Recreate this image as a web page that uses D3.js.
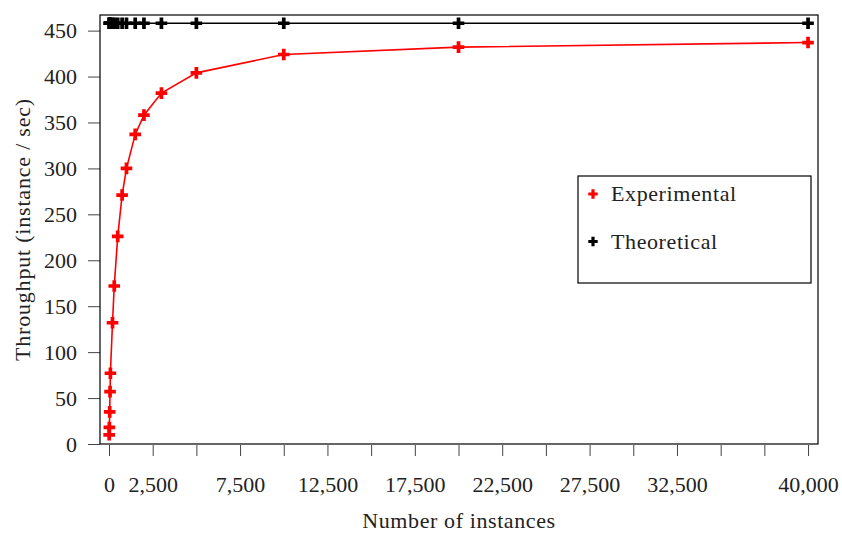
<!DOCTYPE html>
<html>
<head>
<meta charset="utf-8">
<script src="https://cdn.jsdelivr.net/npm/d3@7"></script>
<style>
  body { margin: 0; background: #fff; }
  svg text { font-family: "Liberation Serif", "Times New Roman", "DejaVu Serif", serif; fill: #222; }
</style>
</head>
<body>
<svg id="chart" width="842" height="533"></svg>
<script>
// data
var instances = [10, 20, 40, 60, 80, 200, 300, 500, 750, 1000, 1500, 2000, 3000, 5000, 10000, 20000, 40000];
var experimental = [10, 18, 35, 57, 77, 132, 172, 226, 271, 300, 337, 358, 382, 404, 424, 432, 437];
var theoretical = [458, 458, 458, 458, 458, 458, 458, 458, 458, 458, 458, 458, 458, 458, 458, 458, 458];

var xTicks = d3.range(0, 40001, 2500);
var xTickLabels = [0, 2500, 7500, 12500, 17500, 22500, 27500, 32500, 40000];
var yTicks = [0, 50, 100, 150, 200, 250, 300, 350, 400, 450];

var seriesNames = ["Experimental", "Theoretical"];
var seriesColors = ["#ff0000", "#000000"];

var svg = d3.select("#chart");

// plot frame
const plotLeft = 100, plotRight = 818, plotTop = 15, plotBottom = 444;

var x = d3.scaleLinear().domain([-515, 40570]).range([plotLeft, plotRight]);
var y = d3.scaleLinear().domain([0, 467]).range([plotBottom, plotTop]);

var fmt = d3.format(",");

// axes
var bottomAxis = d3.axisBottom(x)
  .tickValues(xTicks)
  .tickSize(12)
  .tickFormat(d => xTickLabels.indexOf(d) >= 0 ? fmt(d) : "");
var gx = svg.append("g")
  .attr("transform", "translate(0," + plotBottom + ")")
  .call(bottomAxis);
gx.select(".domain").remove();
gx.selectAll("line").attr("stroke", "#444").attr("y1", 1);
gx.selectAll("text")
  .attr("y", 48).attr("dy", 0)
  .style("font-size", "22px");

var leftAxis = d3.axisLeft(y)
  .tickValues(yTicks)
  .tickSize(12)
  .tickFormat(d3.format("d"));
var gy = svg.append("g")
  .attr("transform", "translate(" + plotLeft + ",0)")
  .call(leftAxis);
gy.select(".domain").remove();
gy.selectAll("line").attr("stroke", "#444");
gy.selectAll("text")
  .attr("x", -23)
  .style("font-size", "22px");

// d3 axes set font-family="sans-serif" on the group; drop it so the css applies
gx.attr("font-family", null);
gy.attr("font-family", null);

svg.append("rect")
  .attr("x", plotLeft).attr("y", plotTop)
  .attr("width", plotRight - plotLeft).attr("height", plotBottom - plotTop)
  .attr("fill", "none").attr("stroke", "#000").attr("stroke-width", 1.2);

// axis labels
svg.append("text")
  .attr("x", (plotLeft + plotRight) / 2).attr("y", 528)
  .attr("text-anchor", "middle")
  .style("font-size", "22px").style("letter-spacing", "0.6px")
  .text("Number of instances");

svg.append("text")
  .attr("transform", "translate(30," + ((plotTop + plotBottom) / 2) + ")rotate(-90)")
  .attr("text-anchor", "middle")
  .style("font-size", "22px").style("letter-spacing", "0.8px")
  .text("Throughput (instance / sec)");

// series
var plus = (s) => "M" + (-s) + ",0H" + s + "M0," + (-s) + "V" + s;

var drawSeries = (values, color) => {
  var pts = instances.map((d, i) => [d, values[i]]);
  svg.append("path")
    .datum(pts)
    .attr("fill", "none")
    .attr("stroke", color)
    .attr("stroke-width", 1.6)
    .attr("d", d3.line().x(d => x(d[0])).y(d => y(d[1])));
  svg.append("g").selectAll("path")
    .data(pts)
    .enter().append("path")
    .attr("transform", d => "translate(" + x(d[0]) + "," + y(d[1]) + ")")
    .attr("d", plus(5.8))
    .attr("stroke", color)
    .attr("stroke-width", 3.7)
    .attr("fill", "none");
}

drawSeries(theoretical, seriesColors[1]);
drawSeries(experimental, seriesColors[0]);

// legend
var legend = svg.append("g");
legend.append("rect")
  .attr("x", 578).attr("y", 176)
  .attr("width", 233).attr("height", 107)
  .attr("fill", "#fff").attr("stroke", "#000").attr("stroke-width", 1.2);

seriesNames.forEach((name, i) => {
  var cy = 194 + i * 47.5;
  legend.append("path")
    .attr("transform", "translate(593," + cy + ")")
    .attr("d", plus(4.7))
    .attr("stroke", seriesColors[i])
    .attr("stroke-width", 3.2)
    .attr("fill", "none");
  legend.append("text")
    .attr("x", 611).attr("y", cy + 7)
    .style("font-size", "22px").style("letter-spacing", "0.6px")
    .text(name);
});
</script>
</body>
</html>
